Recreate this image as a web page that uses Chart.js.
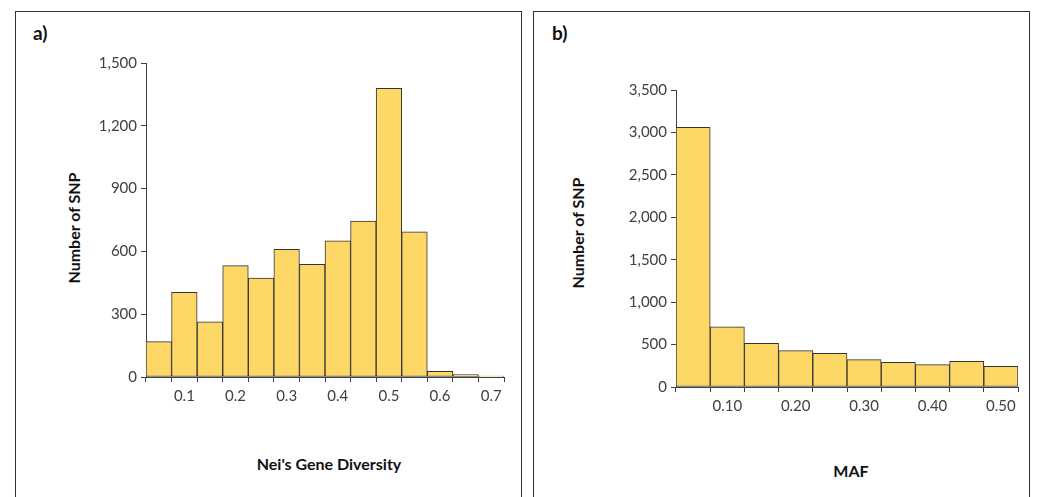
<!DOCTYPE html>
<html>
<head>
<meta charset="utf-8">
<script src="https://cdn.jsdelivr.net/npm/chart.js@4"></script>
<style>
  body { margin: 0; background: #fff; width: 1042px; height: 497px; overflow: hidden; position: relative; font-family: Lato, "Open Sans", sans-serif; }
  .panel { position: absolute; top: 11px; height: 500px; border: 1px solid #333; box-sizing: border-box; }
  .lbl { position: absolute; font-weight: bold; color: #111; white-space: nowrap; }
  .tag { font-size: 19px; }
  .axt { font-size: 16px; transform: translate(-50%, -50%); }
  .axt.rot { transform: translate(-50%, -50%) rotate(-90deg); }
  canvas { position: absolute; }
</style>
</head>
<body>
<div class="panel" style="left:15px; width:507px;"></div>
<div class="panel" style="left:533px; width:497px;"></div>

<div class="lbl tag" style="left:33px; top:21px;">a)</div>
<div class="lbl axt rot" style="left:73px; top:228px;">Number of SNP</div>
<div class="lbl axt" style="left:329px; top:463px;">Nei's Gene Diversity</div>

<div class="lbl tag" style="left:552px; top:21px;">b)</div>
<div class="lbl axt rot" style="left:577px; top:233px;">Number of SNP</div>
<div class="lbl axt" style="left:851px; top:470px;">MAF</div>

<div style="position:absolute; left:86px; top:48px; width:434px; height:359px;"><canvas id="chartA"></canvas></div>
<div style="position:absolute; left:616px; top:75px; width:418px; height:342px;"><canvas id="chartB"></canvas></div>

<script>
// a) Nei's gene diversity histogram (bin centres)
const neiBins = ["0.05", "0.10", "0.15", "0.20", "0.25", "0.30", "0.35", "0.40", "0.45", "0.50", "0.55", "0.60", "0.65", "0.70"];
const neiCounts = [169, 405, 264, 532, 473, 610, 538, 651, 745, 1379, 694, 27, 11, 4];
const neiTickLabels = ["", "0.1", "", "0.2", "", "0.3", "", "0.4", "", "0.5", "", "0.6", "", "0.7"];

// b) MAF histogram (bin centres)
const mafBins = ["0.05", "0.10", "0.15", "0.20", "0.25", "0.30", "0.35", "0.40", "0.45", "0.50"];
const mafCounts = [3061, 710, 514, 428, 396, 322, 290, 263, 302, 243];
const mafTickLabels = ["", "0.10", "", "0.20", "", "0.30", "", "0.40", "", "0.50"];

const axisColor = "#404040";
const tickFont = { family: "Lato, 'Open Sans', sans-serif", size: 15 };

function makeHist(id, bins, counts, tickLabels, yMax, yStep) {
  return new Chart(document.getElementById(id), {
    type: "bar",
    data: {
      labels: bins,
      datasets: [{
        data: counts,
        backgroundColor: "#FDD867",
        borderColor: "#333",
        borderWidth: 1,
        borderSkipped: false,
        barPercentage: 1,
        categoryPercentage: 1
      }]
    },
    options: {
      responsive: true,
      maintainAspectRatio: false,
      animation: false,
      layout: { padding: { top: 15, right: 16, left: 0, bottom: 0 } },
      plugins: { legend: { display: false }, tooltip: { enabled: false } },
      scales: {
        x: {
          offset: true,
          grid: { offset: true, drawOnChartArea: false, drawTicks: true, tickLength: 5, color: axisColor },
          border: { display: true, color: axisColor, width: 1 },
          ticks: {
            autoSkip: false, maxRotation: 0, padding: 5, color: axisColor, font: tickFont,
            callback: (v, i) => tickLabels[i]
          },
          afterFit: (s) => { s.height = 30; }
        },
        y: {
          min: 0, max: yMax,
          grid: { drawOnChartArea: false, drawTicks: true, tickLength: 5, color: axisColor },
          border: { display: true, color: axisColor, width: 1 },
          ticks: {
            stepSize: yStep, padding: 4, color: axisColor, font: tickFont,
            callback: (v) => v.toLocaleString("en-US")
          },
          afterFit: (s) => { s.width = 60; }
        }
      }
    }
  });
}

makeHist("chartA", neiBins, neiCounts, neiTickLabels, 1500, 300);
makeHist("chartB", mafBins, mafCounts, mafTickLabels, 3500, 500);
</script>
</body>
</html>
